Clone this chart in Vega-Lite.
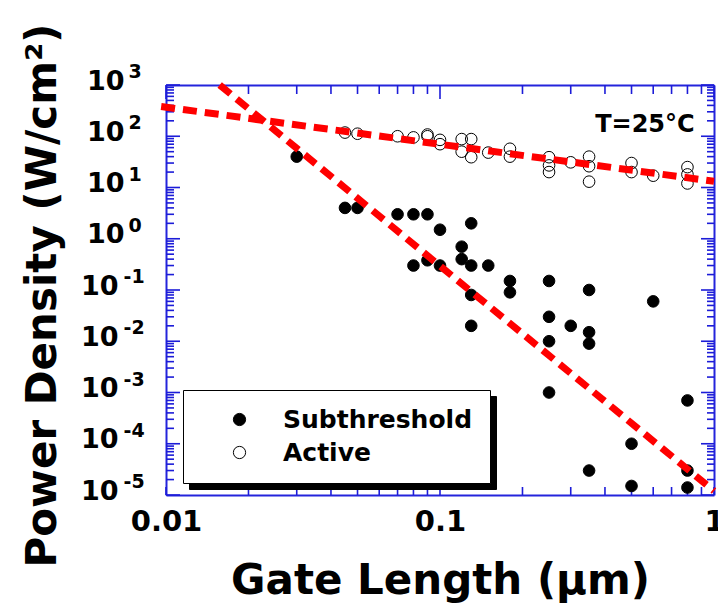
{
  "$schema": "https://vega.github.io/schema/vega-lite/v6.json",
  "width": 548,
  "height": 410,
  "autosize": "none",
  "padding": {"left": 166, "top": 85, "right": 4, "bottom": 109},
  "background": "white",
  "config": {
    "view": {"stroke": null},
    "axis": {
      "grid": false,
      "domainColor": "#2424dc",
      "domainWidth": 2,
      "labelFont": "DejaVu Sans",
      "labelFontWeight": "bold",
      "labelColor": "black",
      "titleFont": "DejaVu Sans",
      "titleFontWeight": "bold",
      "titleColor": "black"
    },
    "tick": {"color": "#1c1cd8", "opacity": 1, "thickness": 1.6}
  },
  "datasets": {
    "xticks": [
      {"L": 0.01, "kind": "major"}, {"L": 0.02, "kind": "minor"}, {"L": 0.03, "kind": "minor"}, {"L": 0.04, "kind": "minor"}, {"L": 0.05, "kind": "minor"}, {"L": 0.06, "kind": "minor"}, {"L": 0.07, "kind": "minor"}, {"L": 0.08, "kind": "minor"}, {"L": 0.09, "kind": "minor"},
      {"L": 0.1, "kind": "major"}, {"L": 0.2, "kind": "minor"}, {"L": 0.3, "kind": "minor"}, {"L": 0.4, "kind": "minor"}, {"L": 0.5, "kind": "minor"}, {"L": 0.6, "kind": "minor"}, {"L": 0.7, "kind": "minor"}, {"L": 0.8, "kind": "minor"}, {"L": 0.9, "kind": "minor"},
      {"L": 1, "kind": "major"}
    ],
    "yticks": [
      {"P": 1e-5, "kind": "major"}, {"P": 2e-5, "kind": "minor"}, {"P": 3e-5, "kind": "minor"}, {"P": 4e-5, "kind": "minor"}, {"P": 5e-5, "kind": "minor"}, {"P": 6e-5, "kind": "minor"}, {"P": 7e-5, "kind": "minor"}, {"P": 8e-5, "kind": "minor"}, {"P": 9e-5, "kind": "minor"},
      {"P": 1e-4, "kind": "major"}, {"P": 2e-4, "kind": "minor"}, {"P": 3e-4, "kind": "minor"}, {"P": 4e-4, "kind": "minor"}, {"P": 5e-4, "kind": "minor"}, {"P": 6e-4, "kind": "minor"}, {"P": 7e-4, "kind": "minor"}, {"P": 8e-4, "kind": "minor"}, {"P": 9e-4, "kind": "minor"},
      {"P": 0.001, "kind": "major"}, {"P": 0.002, "kind": "minor"}, {"P": 0.003, "kind": "minor"}, {"P": 0.004, "kind": "minor"}, {"P": 0.005, "kind": "minor"}, {"P": 0.006, "kind": "minor"}, {"P": 0.007, "kind": "minor"}, {"P": 0.008, "kind": "minor"}, {"P": 0.009, "kind": "minor"},
      {"P": 0.01, "kind": "major"}, {"P": 0.02, "kind": "minor"}, {"P": 0.03, "kind": "minor"}, {"P": 0.04, "kind": "minor"}, {"P": 0.05, "kind": "minor"}, {"P": 0.06, "kind": "minor"}, {"P": 0.07, "kind": "minor"}, {"P": 0.08, "kind": "minor"}, {"P": 0.09, "kind": "minor"},
      {"P": 0.1, "kind": "major"}, {"P": 0.2, "kind": "minor"}, {"P": 0.3, "kind": "minor"}, {"P": 0.4, "kind": "minor"}, {"P": 0.5, "kind": "minor"}, {"P": 0.6, "kind": "minor"}, {"P": 0.7, "kind": "minor"}, {"P": 0.8, "kind": "minor"}, {"P": 0.9, "kind": "minor"},
      {"P": 1, "kind": "major"}, {"P": 2, "kind": "minor"}, {"P": 3, "kind": "minor"}, {"P": 4, "kind": "minor"}, {"P": 5, "kind": "minor"}, {"P": 6, "kind": "minor"}, {"P": 7, "kind": "minor"}, {"P": 8, "kind": "minor"}, {"P": 9, "kind": "minor"},
      {"P": 10, "kind": "major"}, {"P": 20, "kind": "minor"}, {"P": 30, "kind": "minor"}, {"P": 40, "kind": "minor"}, {"P": 50, "kind": "minor"}, {"P": 60, "kind": "minor"}, {"P": 70, "kind": "minor"}, {"P": 80, "kind": "minor"}, {"P": 90, "kind": "minor"},
      {"P": 100, "kind": "major"}, {"P": 200, "kind": "minor"}, {"P": 300, "kind": "minor"}, {"P": 400, "kind": "minor"}, {"P": 500, "kind": "minor"}, {"P": 600, "kind": "minor"}, {"P": 700, "kind": "minor"}, {"P": 800, "kind": "minor"}, {"P": 900, "kind": "minor"},
      {"P": 1000, "kind": "major"}
    ]
  },
  "resolve": {"axis": {"x": "independent", "y": "independent"}},
  "layer": [
    {
      "data": {"name": "xticks"},
      "mark": {"type": "tick", "orient": "vertical", "size": 8, "yOffset": -4},
      "encoding": {
        "x": {"field": "L", "type": "quantitative", "scale": {"type": "log", "domain": [0.01, 1], "nice": false}, "axis": null},
        "y": {"datum": 1e-5, "type": "quantitative", "scale": {"type": "log", "domain": [1e-5, 1000], "nice": false}, "axis": null}
      }
    },
    {
      "data": {"name": "xticks"},
      "transform": [{"filter": "datum.kind == 'major'"}],
      "mark": {"type": "tick", "orient": "vertical", "size": 14, "yOffset": 7},
      "encoding": {
        "x": {"field": "L", "type": "quantitative", "scale": {"type": "log", "domain": [0.01, 1], "nice": false}, "axis": null},
        "y": {"datum": 1000, "type": "quantitative", "scale": {"type": "log", "domain": [1e-5, 1000], "nice": false}, "axis": null}
      }
    },
    {
      "data": {"name": "xticks"},
      "transform": [{"filter": "datum.kind == 'minor'"}],
      "mark": {"type": "tick", "orient": "vertical", "size": 9, "yOffset": 4.5},
      "encoding": {
        "x": {"field": "L", "type": "quantitative", "scale": {"type": "log", "domain": [0.01, 1], "nice": false}, "axis": null},
        "y": {"datum": 1000, "type": "quantitative", "scale": {"type": "log", "domain": [1e-5, 1000], "nice": false}, "axis": null}
      }
    },
    {
      "data": {"name": "yticks"},
      "transform": [{"filter": "datum.kind == 'major'"}],
      "mark": {"type": "tick", "orient": "horizontal", "size": 14, "xOffset": 7},
      "encoding": {
        "y": {"field": "P", "type": "quantitative", "scale": {"type": "log", "domain": [1e-5, 1000], "nice": false}, "axis": null},
        "x": {"datum": 0.01, "type": "quantitative", "scale": {"type": "log", "domain": [0.01, 1], "nice": false}, "axis": null}
      }
    },
    {
      "data": {"name": "yticks"},
      "transform": [{"filter": "datum.kind == 'minor'"}],
      "mark": {"type": "tick", "orient": "horizontal", "size": 8, "xOffset": 4},
      "encoding": {
        "y": {"field": "P", "type": "quantitative", "scale": {"type": "log", "domain": [1e-5, 1000], "nice": false}, "axis": null},
        "x": {"datum": 0.01, "type": "quantitative", "scale": {"type": "log", "domain": [0.01, 1], "nice": false}, "axis": null}
      }
    },
    {
      "data": {"name": "yticks"},
      "transform": [{"filter": "datum.kind == 'major'"}],
      "mark": {"type": "tick", "orient": "horizontal", "size": 13, "xOffset": -6.5},
      "encoding": {
        "y": {"field": "P", "type": "quantitative", "scale": {"type": "log", "domain": [1e-5, 1000], "nice": false}, "axis": null},
        "x": {"datum": 1, "type": "quantitative", "scale": {"type": "log", "domain": [0.01, 1], "nice": false}, "axis": null}
      }
    },
    {
      "data": {"name": "yticks"},
      "transform": [{"filter": "datum.kind == 'minor'"}],
      "mark": {"type": "tick", "orient": "horizontal", "size": 7, "xOffset": -3.5},
      "encoding": {
        "y": {"field": "P", "type": "quantitative", "scale": {"type": "log", "domain": [1e-5, 1000], "nice": false}, "axis": null},
        "x": {"datum": 1, "type": "quantitative", "scale": {"type": "log", "domain": [0.01, 1], "nice": false}, "axis": null}
      }
    },
    {
      "data": {
        "values": [
          {"L": 0.03, "P": 40, "series": "Subthreshold"},
          {"L": 0.045, "P": 4, "series": "Subthreshold"},
          {"L": 0.05, "P": 4, "series": "Subthreshold"},
          {"L": 0.07, "P": 3, "series": "Subthreshold"},
          {"L": 0.08, "P": 3, "series": "Subthreshold"},
          {"L": 0.09, "P": 3, "series": "Subthreshold"},
          {"L": 0.1, "P": 1.5, "series": "Subthreshold"},
          {"L": 0.08, "P": 0.3, "series": "Subthreshold"},
          {"L": 0.09, "P": 0.38, "series": "Subthreshold"},
          {"L": 0.1, "P": 0.3, "series": "Subthreshold"},
          {"L": 0.12, "P": 0.7, "series": "Subthreshold"},
          {"L": 0.12, "P": 0.4, "series": "Subthreshold"},
          {"L": 0.13, "P": 2, "series": "Subthreshold"},
          {"L": 0.13, "P": 0.3, "series": "Subthreshold"},
          {"L": 0.15, "P": 0.3, "series": "Subthreshold"},
          {"L": 0.13, "P": 0.08, "series": "Subthreshold"},
          {"L": 0.13, "P": 0.02, "series": "Subthreshold"},
          {"L": 0.18, "P": 0.15, "series": "Subthreshold"},
          {"L": 0.18, "P": 0.09, "series": "Subthreshold"},
          {"L": 0.25, "P": 0.15, "series": "Subthreshold"},
          {"L": 0.25, "P": 0.03, "series": "Subthreshold"},
          {"L": 0.25, "P": 0.01, "series": "Subthreshold"},
          {"L": 0.25, "P": 0.001, "series": "Subthreshold"},
          {"L": 0.3, "P": 0.02, "series": "Subthreshold"},
          {"L": 0.35, "P": 0.1, "series": "Subthreshold"},
          {"L": 0.35, "P": 0.015, "series": "Subthreshold"},
          {"L": 0.35, "P": 0.009, "series": "Subthreshold"},
          {"L": 0.35, "P": 3e-5, "series": "Subthreshold"},
          {"L": 0.5, "P": 1e-4, "series": "Subthreshold"},
          {"L": 0.5, "P": 1.5e-5, "series": "Subthreshold"},
          {"L": 0.6, "P": 0.06, "series": "Subthreshold"},
          {"L": 0.8, "P": 7e-4, "series": "Subthreshold"},
          {"L": 0.8, "P": 3e-5, "series": "Subthreshold"},
          {"L": 0.8, "P": 1.4e-5, "series": "Subthreshold"},
          {"L": 0.045, "P": 118, "series": "Active"},
          {"L": 0.05, "P": 112, "series": "Active"},
          {"L": 0.07, "P": 100, "series": "Active"},
          {"L": 0.08, "P": 95, "series": "Active"},
          {"L": 0.09, "P": 108, "series": "Active"},
          {"L": 0.09, "P": 100, "series": "Active"},
          {"L": 0.1, "P": 85, "series": "Active"},
          {"L": 0.1, "P": 70, "series": "Active"},
          {"L": 0.12, "P": 88, "series": "Active"},
          {"L": 0.13, "P": 88, "series": "Active"},
          {"L": 0.12, "P": 50, "series": "Active"},
          {"L": 0.13, "P": 39, "series": "Active"},
          {"L": 0.15, "P": 48, "series": "Active"},
          {"L": 0.18, "P": 57, "series": "Active"},
          {"L": 0.18, "P": 40, "series": "Active"},
          {"L": 0.25, "P": 39, "series": "Active"},
          {"L": 0.25, "P": 27, "series": "Active"},
          {"L": 0.25, "P": 20, "series": "Active"},
          {"L": 0.3, "P": 31, "series": "Active"},
          {"L": 0.35, "P": 40, "series": "Active"},
          {"L": 0.35, "P": 26, "series": "Active"},
          {"L": 0.35, "P": 13, "series": "Active"},
          {"L": 0.5, "P": 30, "series": "Active"},
          {"L": 0.5, "P": 20, "series": "Active"},
          {"L": 0.6, "P": 17, "series": "Active"},
          {"L": 0.8, "P": 25, "series": "Active"},
          {"L": 0.8, "P": 18, "series": "Active"},
          {"L": 0.8, "P": 12, "series": "Active"}
        ]
      },
      "mark": {"type": "circle", "size": 135, "stroke": "black", "strokeWidth": 1, "opacity": 1},
      "encoding": {
        "x": {"field": "L", "type": "quantitative", "scale": {"type": "log", "domain": [0.01, 1], "nice": false}, "axis": null},
        "y": {"field": "P", "type": "quantitative", "scale": {"type": "log", "domain": [1e-5, 1000], "nice": false}, "axis": null},
        "fill": {
          "field": "series", "type": "nominal",
          "scale": {"domain": ["Subthreshold", "Active"], "range": ["black", "transparent"]},
          "legend": {
            "title": null, "orient": "none", "legendX": 17, "legendY": 305, "direction": "vertical",
            "symbolType": "circle", "symbolSize": 150, "symbolStrokeColor": "black", "symbolStrokeWidth": 1,
            "symbolOffset": 27, "labelOffset": 31, "rowPadding": 7, "padding": 17,
            "labelFont": "DejaVu Sans", "labelFontWeight": "bold", "labelFontSize": 25, "labelColor": "black", "labelLimit": 400,
            "strokeColor": "black", "fillColor": "white", "zindex": 2,
            "encode": {"legend": {"update": {"strokeWidth": {"value": 2.5}}}}
          }
        }
      }
    },
    {
      "data": {
        "values": [
          {"L": 0.0096, "P": 380, "fit": "Active"},
          {"L": 1, "P": 13.2, "fit": "Active"}
        ]
      },
      "mark": {"type": "line", "stroke": "#ff0000", "color": "#ff0000", "strokeWidth": 7, "strokeCap": "butt"},
      "encoding": {
        "x": {
          "field": "L", "type": "quantitative",
          "scale": {"type": "log", "domain": [0.01, 1], "nice": false},
          "axis": {
            "orient": "bottom", "ticks": false, "domain": true,
            "values": [0.01, 0.1, 1],
            "labelExpr": "format(datum.value, '~g')",
            "labelFontSize": 29, "labelBaseline": "alphabetic", "labelPadding": 35, "labelFlush": false, "labelOverlap": false, "labelBound": false,
            "title": "Gate Length (μm)", "titleFontSize": 42, "titleBaseline": "alphabetic", "titleY": 98
          }
        },
        "y": {
          "field": "P", "type": "quantitative",
          "scale": {"type": "log", "domain": [1e-5, 1000], "nice": false},
          "axis": {
            "orient": "left", "ticks": false, "domain": true,
            "values": [1e-5, 1e-4, 0.001, 0.01, 0.1, 1, 10, 100, 1000],
            "labelExpr": "'10'", "labelOverlap": false, "labelBound": false,
            "labelFontSize": 27, "labelAlign": "right", "labelBaseline": "alphabetic", "labelOffset": 4,
            "labelPadding": {"condition": {"test": "datum.value < 0.5", "value": 48}, "value": 42},
            "title": "Power Density (W/cm²)", "titleFontSize": 42, "titleAngle": 270,
            "titleBaseline": "alphabetic", "titleAlign": "center", "titleX": -111, "titleY": 210
          }
        },
        "strokeDash": {
          "field": "fit", "type": "nominal",
          "scale": {"domain": ["Active", "Subthreshold"], "range": [[14, 8], [14, 8]]},
          "legend": {
            "title": null, "orient": "none", "legendX": 23, "legendY": 311, "direction": "vertical",
            "symbolType": "circle", "symbolSize": 150, "symbolStrokeWidth": 1, "symbolOpacity": 0,
            "symbolOffset": 27, "labelOffset": 31, "rowPadding": 7, "padding": 17,
            "labelFont": "DejaVu Sans", "labelFontWeight": "bold", "labelFontSize": 25, "labelOpacity": 0, "labelLimit": 400,
            "strokeColor": "black", "fillColor": "black", "zindex": 1
          }
        }
      }
    },
    {
      "data": {
        "values": [
          {"L": 0.0157, "P": 1000, "fit": "Subthreshold"},
          {"L": 1, "P": 1.2e-5, "fit": "Subthreshold"}
        ]
      },
      "mark": {"type": "line", "stroke": "#ff0000", "color": "#ff0000", "strokeWidth": 7, "strokeCap": "butt"},
      "encoding": {
        "x": {"field": "L", "type": "quantitative", "scale": {"type": "log", "domain": [0.01, 1], "nice": false}, "axis": null},
        "y": {
          "field": "P", "type": "quantitative",
          "scale": {"type": "log", "domain": [1e-5, 1000], "nice": false},
          "axis": {
            "orient": "left", "ticks": false, "domain": false, "title": null,
            "values": [1e-5, 1e-4, 0.001, 0.01, 0.1, 1, 10, 100, 1000],
            "labelExpr": "'' + round(log(datum.value)/LN10)", "labelOverlap": false, "labelBound": false,
            "labelFontSize": 19, "labelAlign": "left", "labelBaseline": "alphabetic", "labelOffset": -7.5,
            "labelPadding": {"condition": {"test": "datum.value < 0.5", "value": 43}, "value": 38}
          }
        },
        "strokeDash": {
          "field": "fit", "type": "nominal",
          "scale": {"domain": ["Active", "Subthreshold"], "range": [[14, 8], [14, 8]]},
          "legend": {
            "title": null, "orient": "none", "legendX": 23, "legendY": 311, "direction": "vertical",
            "symbolType": "circle", "symbolSize": 150, "symbolStrokeWidth": 1, "symbolOpacity": 0,
            "symbolOffset": 27, "labelOffset": 31, "rowPadding": 7, "padding": 17,
            "labelFont": "DejaVu Sans", "labelFontWeight": "bold", "labelFontSize": 25, "labelOpacity": 0, "labelLimit": 400,
            "strokeColor": "black", "fillColor": "black", "zindex": 1
          }
        }
      }
    },
    {
      "data": {"values": [{"L": 0.85, "P": 123, "note": "T=25°C"}]},
      "mark": {"type": "text", "align": "right", "baseline": "alphabetic", "font": "DejaVu Sans", "fontWeight": "bold", "fontSize": 24, "color": "black"},
      "encoding": {
        "x": {
          "field": "L", "type": "quantitative",
          "scale": {"type": "log", "domain": [0.01, 1], "nice": false},
          "axis": {"orient": "top", "title": null, "labels": false, "ticks": false, "domain": true}
        },
        "y": {
          "field": "P", "type": "quantitative",
          "scale": {"type": "log", "domain": [1e-5, 1000], "nice": false},
          "axis": {"orient": "right", "title": null, "labels": false, "ticks": false, "domain": true}
        },
        "text": {"field": "note", "type": "nominal"}
      }
    }
  ]
}
